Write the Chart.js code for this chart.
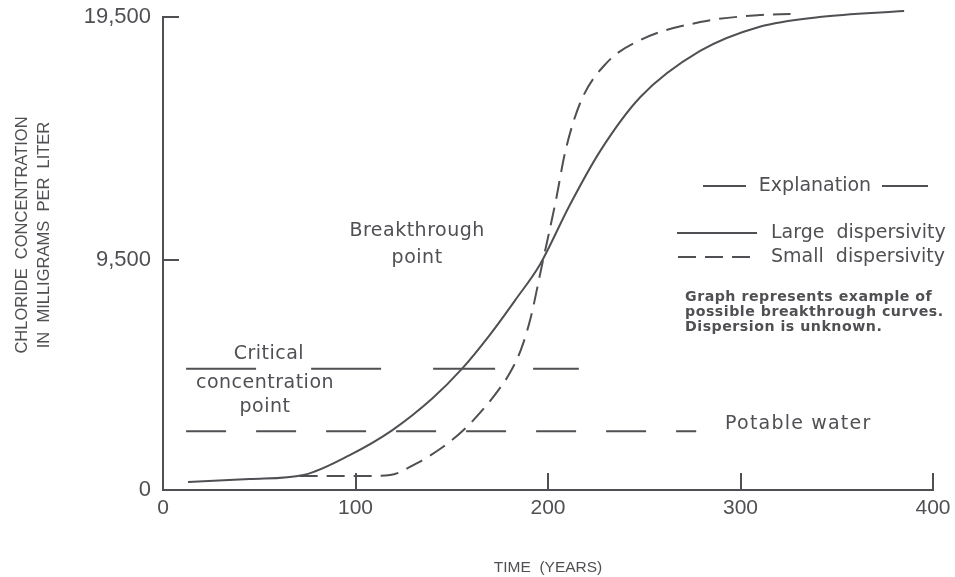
<!DOCTYPE html>
<html>
<head>
<meta charset="utf-8">
<title>Chloride breakthrough curves</title>
<script src="https://cdn.jsdelivr.net/npm/chart.js@4.4.0/dist/chart.umd.min.js"></script>
<style>
  html, body { margin: 0; padding: 0; background: #fff; }
  #wrap { width: 955px; height: 577px; }
</style>
</head>
<body>
<div id="wrap"><canvas id="chart"></canvas></div>
<script>
"use strict";
// time (years) and chloride (mg/L)
const largeYears = [13, 45, 73, 97, 119, 140, 155, 170, 183, 196, 211, 227, 248, 279, 310, 341, 385];
const largeChloride = [330, 450, 620, 1440, 2460, 3780, 4970, 6420, 7830, 9320, 11700, 13960, 16200, 18100, 19100, 19500, 19750];
const smallYears = [71, 102, 118, 132, 145, 156, 166, 175, 180, 186, 191, 197, 204, 209, 217, 230, 248, 279, 310, 326];
const smallChloride = [575, 575, 620, 1110, 1750, 2460, 3300, 4200, 4800, 5800, 7100, 9320, 11900, 13960, 16010, 17570, 18550, 19290, 19580, 19620];
const criticalYears = [12, 216];
const criticalLevel = 5000;
const potableYears = [12, 277];
const potableLevel = 2420;
const xTicks = [0, 100, 200, 300, 400];
const yTicks = [0, 9500, 19500];

const ink = '#505054';
const tickFont = "'Liberation Sans', sans-serif";
const noteFont = "'DejaVu Sans', sans-serif";

const pts = (xs, ys) => xs.map((v, i) => ({x: v, y: ys[i]}));
const flat = (xs, level) => xs.map(v => ({x: v, y: level}));

const annotate = {
  id: 'annotate',
  afterDatasetsDraw(chart) {
    const {ctx, chartArea: a, scales: {x, y}} = chart;
    ctx.save();
    ctx.strokeStyle = ink;
    ctx.fillStyle = ink;
    ctx.lineWidth = 2;

    // tick marks point into the plot
    ctx.beginPath();
    xTicks.slice(1).forEach(v => {
      const px = Math.round(x.getPixelForValue(v));
      ctx.moveTo(px, a.bottom);
      ctx.lineTo(px, a.bottom - 17);
    });
    yTicks.slice(1).forEach(v => {
      const py = Math.round(y.getPixelForValue(v));
      ctx.moveTo(a.left, py);
      ctx.lineTo(a.left + 16, py);
    });
    ctx.stroke();

    // y axis title, two rotated lines
    ctx.save();
    ctx.font = '16.5px ' + tickFont;
    ctx.textAlign = 'center';
    ctx.textBaseline = 'middle';
    ctx.translate(22, 235);
    ctx.rotate(-Math.PI / 2);
    ctx.fillText('CHLORIDE  CONCENTRATION', 0, 0);
    ctx.fillText('IN  MILLIGRAMS  PER  LITER', 0, 22);
    ctx.restore();

    ctx.textBaseline = 'middle';
    ctx.textAlign = 'center';
    ctx.font = '19px ' + noteFont;
    ctx.letterSpacing = '0.5px';
    const at = (t, tx, ty) => ctx.fillText(t, x.getPixelForValue(tx), y.getPixelForValue(ty));
    at('Critical', 55, 5620);
    at('concentration', 53, 4390);
    at('point', 53, 3410);
    at('Breakthrough', 132, 10670);
    at('point', 132, 9550);
    ctx.textAlign = 'left';
    ctx.letterSpacing = '1.2px';
    at('Potable water', 292, 2700);
    ctx.letterSpacing = '0px';

    // explanation box
    ctx.beginPath();
    ctx.moveTo(703, 186); ctx.lineTo(746, 186);
    ctx.moveTo(882, 186); ctx.lineTo(928, 186);
    ctx.moveTo(677, 233); ctx.lineTo(757, 233);
    ctx.stroke();
    ctx.setLineDash([18, 9]);
    ctx.beginPath();
    ctx.moveTo(678, 257); ctx.lineTo(750, 257);
    ctx.stroke();
    ctx.setLineDash([]);
    ctx.textAlign = 'center';
    ctx.fillText('Explanation', 815, 186);
    ctx.textAlign = 'left';
    ctx.fillText('Large  dispersivity', 771, 233);
    ctx.fillText('Small  dispersivity', 771, 257);
    ctx.font = 'bold 14.2px ' + noteFont;
    ctx.letterSpacing = '0.5px';
    ctx.fillText('Graph represents example of', 685, 297);
    ctx.fillText('possible breakthrough curves.', 685, 312);
    ctx.fillText('Dispersion is unknown.', 685, 327);
    ctx.restore();
  }
};

new Chart(document.getElementById('chart'), {
  type: 'line',
  data: {
    datasets: [
      {label: 'Large dispersivity', data: pts(largeYears, largeChloride), clip: false,
       borderColor: ink, borderWidth: 2, cubicInterpolationMode: 'monotone'},
      {label: 'Small dispersivity', data: pts(smallYears, smallChloride), clip: false,
       borderColor: ink, borderWidth: 2, borderDash: [18, 9], cubicInterpolationMode: 'monotone'},
      {label: 'Critical concentration', data: flat(criticalYears, criticalLevel),
       borderColor: ink, borderWidth: 2, borderDash: [70, 55, 70, 52, 62, 38]},
      {label: 'Potable water', data: flat(potableYears, potableLevel),
       borderColor: ink, borderWidth: 2, borderDash: [40, 30]}
    ]
  },
  options: {
    responsive: true,
    maintainAspectRatio: false,
    animation: false,
    elements: {point: {radius: 0}},
    layout: {padding: {top: 17, right: 22, left: 0, bottom: 0}},
    plugins: {legend: {display: false}, tooltip: {enabled: false}},
    scales: {
      x: {
        type: 'linear', min: 0, max: 400,
        afterFit: s => { s.height = 87; s.paddingLeft = 0; s.paddingRight = 0; },
        afterBuildTicks: s => { s.ticks = xTicks.map(v => ({value: v})); },
        grid: {display: false, drawTicks: false},
        border: {color: ink, width: 2},
        ticks: {color: ink, padding: 6, maxRotation: 0, font: {family: tickFont, size: 21}},
        title: {display: true, text: 'TIME  (YEARS)', color: ink, padding: 0,
                font: {family: tickFont, size: 15.5}}
      },
      y: {
        type: 'linear', min: 0, max: 19500,
        afterFit: s => { s.width = 163; s.paddingTop = 0; s.paddingBottom = 0; },
        afterBuildTicks: s => { s.ticks = yTicks.map(v => ({value: v})); },
        grid: {display: false, drawTicks: false},
        border: {color: ink, width: 2},
        ticks: {color: ink, padding: 12, font: {family: tickFont, size: 22},
                callback: v => v.toLocaleString('en-US')}
      }
    }
  },
  plugins: [annotate]
});
</script>
</body>
</html>
